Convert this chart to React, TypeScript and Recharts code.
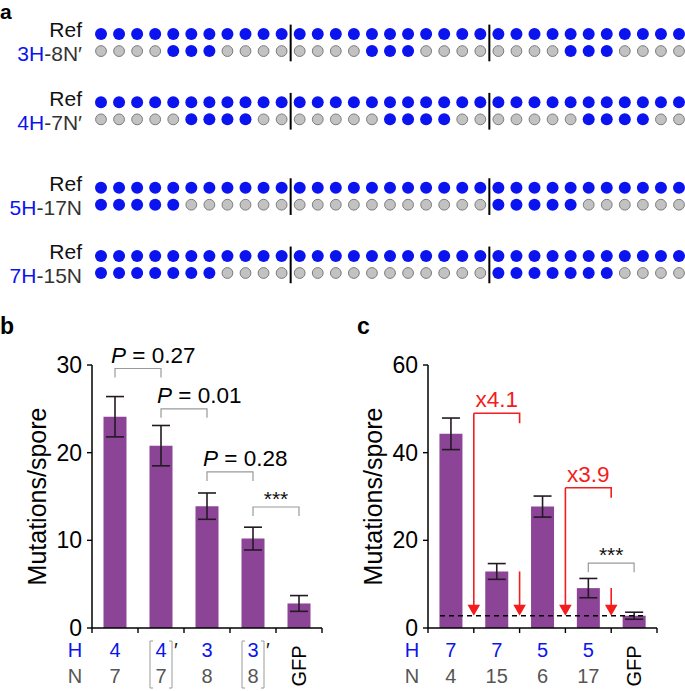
import React from 'react';
import {
  ScatterChart, Scatter, XAxis, YAxis, BarChart, Bar, ErrorBar, ReferenceLine,
} from 'recharts';

const FONT = '"Liberation Sans", Arial, Helvetica, sans-serif';
const BLUE = '#0b14ee';
const PURPLE = '#8c4596';
const RED = '#f41c1c';
const ERR = '#231a23';
const GRAY_TEXT = '#565656';
const BRACKET_GRAY = '#9a9a9a';

// ---------------- panel a data ----------------
const rowLabels = ['Ref', '3H-8N′', 'Ref', '4H-7N′', 'Ref', '5H-17N', 'Ref', '7H-15N'];
const refRow = ['11111111111', '11111111111', '11111111111'];
const row3H8N = ['00001110000', '00001110000', '00001110000'];
const row4H7N = ['00000111100', '00000111100', '00000111100'];
const row5H17N = ['11111000000', '00000000000', '11111000000'];
const row7H15N = ['11111110000', '00000000000', '11111110000'];
const rowPatterns = [refRow, row3H8N, refRow, row4H7N, refRow, row5H17N, refRow, row7H15N];

// ---------------- panel b data ----------------
const bCategories = ['4', '4′', '3', '3′', 'GFP'];
const bHValues = ['4', '4', '3', '3', ''];
const bNValues = ['7', '7', '8', '8', ''];
const bBoxed = [false, true, false, true, false];
const bMeans = [24.1, 20.8, 13.9, 10.2, 2.8];
const bErrors = [2.3, 2.3, 1.5, 1.3, 0.9];
const bYTicks = [0, 10, 20, 30];
const bComparisons = [
  { from: 0, to: 1, y: 29.6, p: '0.27' },
  { from: 1, to: 2, y: 25.0, p: '0.01' },
  { from: 2, to: 3, y: 17.8, p: '0.28' },
  { from: 3, to: 4, y: 13.8, p: '***' },
];

// ---------------- panel c data ----------------
const cCategories = ['H7N4', 'H7N15', 'H5N6', 'H5N17', 'GFP'];
const cHValues = ['7', '7', '5', '5', ''];
const cNValues = ['4', '15', '6', '17', ''];
const cBoxed = [false, false, false, false, false];
const cMeans = [44.3, 12.9, 27.7, 9.1, 2.8];
const cErrors = [3.6, 1.8, 2.4, 2.2, 0.8];
const cYTicks = [0, 20, 40, 60];
const cFolds = [
  { from: 0, to: 1, top: 49.0, label: 'x4.1' },
  { from: 2, to: 3, top: 32.0, label: 'x3.9' },
];
const cComparisons = [{ from: 3, to: 4, y: 14.8, p: '***' }];

// ---------------- layout helpers ----------------
const ROW_SLOTS = [0, 1, 4, 5, 9, 10, 13, 14];
const GROUP_SIZE = 11;
const N_GROUPS = 3;

const dotData = rowPatterns.flatMap((groups, r) =>
  groups.flatMap((g, gi) =>
    g.split('').map((c, p) => ({ pos: gi * GROUP_SIZE + p, row: ROW_SLOTS[r], on: c === '1' }))
  )
);

const DotShape = (props: any) => {
  const { cx, cy, payload } = props;
  if (payload.on) return <circle cx={cx} cy={cy} r={6} fill={BLUE} />;
  return <circle cx={cx} cy={cy} r={5.4} fill="#c2c2c2" stroke="#7c7c7c" strokeWidth={1} />;
};

const RowLabelTick = (props: any) => {
  const { x, y, payload } = props;
  const idx = ROW_SLOTS.indexOf(payload.value);
  const label = rowLabels[idx] ?? '';
  const m = label.match(/^(\d+H)(.*)$/);
  const dy = m ? 3 : -4;
  return (
    <text x={x} y={y + dy} dy="0.35em" textAnchor="end" fontSize={21} fontFamily={FONT}>
      {m ? (
        <>
          <tspan fill={BLUE}>{m[1]}</tspan>
          <tspan fill="#333">{m[2]}</tspan>
        </>
      ) : (
        <tspan fill="#111">{label}</tspan>
      )}
    </text>
  );
};

const SeparatorShape = (props: any) => {
  const { x1, y1, x2, y2 } = props;
  return <line x1={x1} y1={y1} x2={x2} y2={y2} stroke="#000" strokeWidth={2} />;
};

function PanelA() {
  const pairSlots = ROW_SLOTS.filter((_, i) => i % 2 === 0);
  const sepPositions = Array.from({ length: N_GROUPS - 1 }, (_, i) => (i + 1) * GROUP_SIZE - 0.5);
  return (
    <ScatterChart width={685} height={300} margin={{ top: 34, right: 6, bottom: 27, left: 0 }}>
      <XAxis dataKey="pos" type="number" domain={[0, GROUP_SIZE * N_GROUPS - 1]} hide />
      <YAxis
        dataKey="row"
        type="number"
        domain={[0, 14]}
        reversed
        ticks={ROW_SLOTS}
        interval={0}
        width={101}
        axisLine={false}
        tickLine={false}
        tickSize={0}
        tickMargin={19}
        tick={RowLabelTick}
      />
      {pairSlots.flatMap((s) =>
        sepPositions.map((xp) => (
          <ReferenceLine
            key={`sep-${s}-${xp}`}
            segment={[{ x: xp, y: s - 0.55 }, { x: xp, y: s + 1.6 }]}
            ifOverflow="visible"
            shape={SeparatorShape}
          />
        ))
      )}
      <Scatter data={dotData} shape={DotShape} isAnimationActive={false} />
    </ScatterChart>
  );
}

// ---------------- bar chart helpers ----------------
const makeCategoryTick = (cats: string[], hVals: string[], nVals: string[], boxed: boolean[]) => (props: any) => {
  const { x, y, index } = props;
  const h = hVals[index];
  const n = nVals[index];
  if (!h) {
    const cy = y + 38;
    return (
      <text x={x} y={cy} dy="0.35em" transform={`rotate(-90 ${x} ${cy})`} textAnchor="middle"
        fontSize={20} fill="#000" fontFamily={FONT}>{cats[index]}</text>
    );
  }
  return (
    <g>
      <text x={x} y={y + 29} textAnchor="middle" fontSize={20} fill={BLUE} fontFamily={FONT}>{h}</text>
      <text x={x} y={y + 55} textAnchor="middle" fontSize={20} fill={GRAY_TEXT} fontFamily={FONT}>{n}</text>
      {boxed[index] && (
        <>
          <path
            d={`M${x - 8},${y + 13}H${x - 11}V${y + 60}H${x - 8}M${x + 8},${y + 13}H${x + 11}V${y + 60}H${x + 8}`}
            fill="none" stroke={BRACKET_GRAY} strokeWidth={1}
          />
          <text x={x + 13} y={y + 29} fontSize={20} fill="#111" fontFamily={FONT}>′</text>
        </>
      )}
    </g>
  );
};

const rowHeaderLabel = (dx: number) => ({
  content: (p: any) => {
    const vb = p.viewBox;
    return (
      <g>
        <text x={vb.x + dx} y={vb.y + 29} textAnchor="middle" fontSize={20} fill={BLUE} fontFamily={FONT}>H</text>
        <text x={vb.x + dx} y={vb.y + 55} textAnchor="middle" fontSize={20} fill={GRAY_TEXT} fontFamily={FONT}>N</text>
      </g>
    );
  },
});

const yTitle = (cxOffset: number) => ({
  content: (p: any) => {
    const vb = p.viewBox;
    const cx = vb.x + cxOffset;
    const cy = vb.y + vb.height / 2;
    return (
      <text x={cx} y={cy} dy="0.35em" transform={`rotate(-90 ${cx} ${cy})`} textAnchor="middle"
        fontSize={25} fill="#000" fontFamily={FONT}>Mutations/spore</text>
    );
  },
});

const TickMarkShape = (props: any) => {
  const { x1, y1, y2 } = props;
  const yb = Math.max(y1, y2);
  return <line x1={x1} x2={x1} y1={yb} y2={yb + 5} stroke="#000" strokeWidth={1.4} />;
};

const makeComparisonShape = (p: string) => (props: any) => {
  const { x1, y1, x2, y2 } = props;
  const leg = 9;
  const isStars = p === '***';
  return (
    <g>
      <path d={`M${x1},${y1 + leg}V${y1}H${x2}V${y2 + leg}`} fill="none" stroke={BRACKET_GRAY} strokeWidth={1.2} />
      {isStars ? (
        <text x={(x1 + x2) / 2} y={y1 - 1} textAnchor="middle" fontSize={21} fill="#111" fontFamily={FONT}>***</text>
      ) : (
        <text x={x1 - 4} y={y1 - 6} textAnchor="start" fontSize={22.5} fill="#000" fontFamily={FONT}>
          <tspan fontStyle="italic">P</tspan>
          <tspan>{` = ${p}`}</tspan>
        </text>
      )}
    </g>
  );
};

const makeFoldShape = (label: string) => (props: any) => {
  const { x1, y1, x2 } = props;
  return (
    <g>
      <path d={`M${x1},${y1}H${x2}V${y1 + 10}`} fill="none" stroke={RED} strokeWidth={1.6} />
      <text x={(x1 + x2) / 2} y={y1 - 6} textAnchor="middle" fontSize={22.5} fill={RED} fontFamily={FONT}>{label}</text>
    </g>
  );
};

const ArrowShape = (props: any) => {
  const { x1, y1, y2 } = props;
  const top = Math.min(y1, y2);
  const tip = Math.max(y1, y2);
  const hw = 6.3;
  const hh = 11;
  return (
    <g>
      <line x1={x1} x2={x1} y1={top} y2={tip - hh + 1} stroke={RED} strokeWidth={1.6} />
      <path d={`M${x1 - hw},${tip - hh}L${x1 + hw},${tip - hh}L${x1},${tip}Z`} fill={RED} />
    </g>
  );
};

const DashedShape = (props: any) => {
  const { x1, y1, x2 } = props;
  const left = Math.min(x1, x2) + 12;
  const right = Math.max(x1, x2) - 11;
  return <line x1={left} x2={right} y1={y1} y2={y1} stroke="#000" strokeWidth={1.3} strokeDasharray="5 4" />;
};

type ChartProps = {
  cats: string[];
  hVals: string[];
  nVals: string[];
  boxed: boolean[];
  means: number[];
  errors: number[];
  yTicks: number[];
  width: number;
  rightMargin: number;
  yAxisWidth: number;
  titleOffset: number;
  headerOffset: number;
  children?: React.ReactNode;
  comparisons: { from: number; to: number; y: number; p: string }[];
};

function MutationBars(props: ChartProps) {
  const { cats, hVals, nVals, boxed, means, errors, yTicks, width, rightMargin, yAxisWidth,
    titleOffset, headerOffset, comparisons } = props;
  const data = cats.map((cat, i) => ({ cat, mean: means[i], err: errors[i] }));
  const yMax = yTicks[yTicks.length - 1];
  return (
    <BarChart width={width} height={391} data={data} barCategoryGap="25%"
      margin={{ top: 65, right: rightMargin, bottom: 0, left: 0 }}>
      <XAxis dataKey="cat" interval={0} height={63} tickLine={false} tickSize={0} tickMargin={0}
        axisLine={{ stroke: '#000', strokeWidth: 1.5 }}
        tick={makeCategoryTick(cats, hVals, nVals, boxed)}
        label={rowHeaderLabel(headerOffset)} />
      <YAxis type="number" domain={[0, yMax]} ticks={yTicks} interval={0} width={yAxisWidth}
        axisLine={{ stroke: '#000', strokeWidth: 1.5 }}
        tickLine={{ stroke: '#000', strokeWidth: 1.4 }} tickSize={5} tickMargin={5}
        tick={{ fill: '#000', fontSize: 23, fontFamily: FONT }}
        label={yTitle(titleOffset)} />
      <Bar dataKey="mean" fill={PURPLE} isAnimationActive={false}>
        <ErrorBar dataKey="err" width={9} strokeWidth={1.6} stroke={ERR} direction="y" isAnimationActive={false} />
      </Bar>
      <ReferenceLine x={cats[0]} position="start" ifOverflow="visible" shape={TickMarkShape} />
      {cats.map((c) => (
        <ReferenceLine key={`tm-${c}`} x={c} position="end" ifOverflow="visible" shape={TickMarkShape} />
      ))}
      {comparisons.map((cmp) => (
        <ReferenceLine key={`cmp-${cmp.from}`} ifOverflow="visible"
          segment={[{ x: cats[cmp.from], y: cmp.y }, { x: cats[cmp.to], y: cmp.y }]}
          shape={makeComparisonShape(cmp.p)} />
      ))}
      {props.children}
    </BarChart>
  );
}

function PanelC() {
  const baseline = cMeans[cMeans.length - 1];
  return (
    <MutationBars cats={cCategories} hVals={cHValues} nVals={cNValues} boxed={cBoxed}
      means={cMeans} errors={cErrors} yTicks={cYTicks} width={345} rightMargin={28}
      yAxisWidth={88} titleOffset={33} headerOffset={-16} comparisons={cComparisons}>
      <ReferenceLine y={baseline} ifOverflow="visible" shape={DashedShape} />
      {cFolds.map((f) => (
        <ReferenceLine key={`fold-${f.label}`} position="end" ifOverflow="visible"
          segment={[{ x: cCategories[f.from], y: f.top }, { x: cCategories[f.to], y: f.top }]}
          shape={makeFoldShape(f.label)} />
      ))}
      {cFolds.map((f) => (
        <ReferenceLine key={`arrA-${f.label}`} position="end" ifOverflow="visible"
          segment={[{ x: cCategories[f.from], y: f.top }, { x: cCategories[f.from], y: baseline }]}
          shape={ArrowShape} />
      ))}
      {cFolds.map((f) => (
        <ReferenceLine key={`arrB-${f.label}`} position="end" ifOverflow="visible"
          segment={[{ x: cCategories[f.to], y: cMeans[f.to] }, { x: cCategories[f.to], y: baseline }]}
          shape={ArrowShape} />
      ))}
    </MutationBars>
  );
}

const panelLetter: React.CSSProperties = {
  position: 'absolute', fontFamily: FONT, fontWeight: 'bold', fontSize: 23, lineHeight: '14px', color: '#000',
};

export default function App() {
  return (
    <div style={{ position: 'absolute', left: 0, top: 0, width: 685, height: 691, background: '#fff', fontFamily: FONT, overflow: 'hidden' }}>
      <div style={{ ...panelLetter, left: 0, top: 0, fontSize: 21, lineHeight: 'normal' }}>a</div>
      <div style={{ ...panelLetter, left: 0, top: 319 }}>b</div>
      <div style={{ ...panelLetter, left: 357, top: 319 }}>c</div>
      <div style={{ position: 'absolute', left: 0, top: 0 }}>
        <PanelA />
      </div>
      <div style={{ position: 'absolute', left: 0, top: 300 }}>
        <MutationBars cats={bCategories} hVals={bHValues} nVals={bNValues} boxed={bBoxed}
          means={bMeans} errors={bErrors} yTicks={bYTicks} width={340} rightMargin={18}
          yAxisWidth={92} titleOffset={37} headerOffset={-17} comparisons={bComparisons} />
      </div>
      <div style={{ position: 'absolute', left: 340, top: 300 }}>
        <PanelC />
      </div>
    </div>
  );
}
